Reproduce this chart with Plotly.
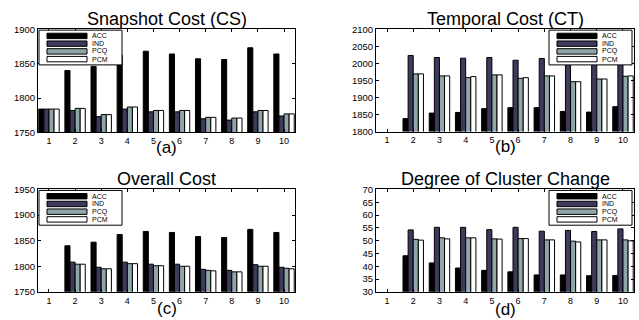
import plotly.graph_objects as go

categories = [1, 2, 3, 4, 5, 6, 7, 8, 9, 10]
series_names = ["ACC", "IND", "PCQ", "PCM"]
series_colors = ["#000000", "#3d3b5c", "#8fa6a9", "#ffffff"]

# (a) Snapshot Cost (CS)
cs_acc = [1784, 1840, 1846, 1862, 1868, 1864, 1857, 1856, 1873, 1864]
cs_ind = [1784, 1782, 1773, 1784, 1780, 1780, 1770, 1768, 1780, 1774]
cs_pcq = [1784, 1785, 1776, 1787, 1782, 1782, 1772, 1771, 1782, 1777]
cs_pcm = [1784, 1785, 1776, 1787, 1782, 1782, 1772, 1771, 1782, 1777]

# (b) Temporal Cost (CT)
ct_acc = [None, 1838, 1854, 1856, 1867, 1870, 1870, 1859, 1857, 1873]
ct_ind = [None, 2023, 2017, 2015, 2017, 2009, 2014, 2010, 2012, 2014]
ct_pcq = [None, 1969, 1963, 1958, 1966, 1956, 1963, 1946, 1954, 1962]
ct_pcm = [None, 1969, 1963, 1961, 1966, 1958, 1963, 1946, 1954, 1963]

# (c) Overall Cost
oc_acc = [None, 1840, 1847, 1862, 1868, 1866, 1858, 1856, 1872, 1866]
oc_ind = [None, 1808, 1798, 1808, 1804, 1804, 1794, 1792, 1803, 1798]
oc_pcq = [None, 1804, 1795, 1805, 1801, 1800, 1792, 1789, 1800, 1796]
oc_pcm = [None, 1804, 1795, 1805, 1801, 1800, 1791, 1789, 1800, 1795]

# (d) Degree of Cluster Change
dc_acc = [None, 44.1, 41.3, 39.3, 38.4, 37.8, 36.6, 36.6, 36.3, 36.4]
dc_ind = [None, 54.2, 55.2, 55.2, 54.3, 55.2, 53.7, 54.0, 53.6, 54.6]
dc_pcq = [None, 50.5, 51.1, 51.1, 50.7, 50.8, 50.3, 49.8, 50.3, 50.3]
dc_pcm = [None, 50.2, 50.7, 51.1, 50.6, 50.8, 50.3, 49.5, 50.3, 49.9]

panel_titles = ["Snapshot Cost (CS)", "Temporal Cost (CT)", "Overall Cost", "Degree of Cluster Change"]
panel_labels = ["(a)", "(b)", "(c)", "(d)"]
panel_data = [
    [cs_acc, cs_ind, cs_pcq, cs_pcm],
    [ct_acc, ct_ind, ct_pcq, ct_pcm],
    [oc_acc, oc_ind, oc_pcq, oc_pcm],
    [dc_acc, dc_ind, dc_pcq, dc_pcm],
]
y_ranges = [[1750, 1900], [1800, 2100], [1750, 1950], [30, 70]]
y_dticks = [50, 50, 50, 5]

W, H = 639, 320
# plot boxes in pixels: (left, right, top, bottom)
boxes = [(38, 295, 24, 131), (376, 634, 24, 130), (38, 295, 190, 296), (376, 634, 190, 296)]
# legend boxes in pixels: (left, top)
legend_pos = [(39, 25), (549, 25), (39, 191), (549, 191)]
title_y = [13, 13, 179, 179]
label_y = [147, 146, 313, 314]

FONT = "Liberation Sans, Arial, sans-serif"
fig = go.Figure()
shapes = []
annotations = []

for p in range(4):
    ax = "" if p == 0 else str(p + 1)
    l, r, t, b = boxes[p]
    for s in range(4):
        fig.add_trace(go.Bar(
            x=categories, y=panel_data[p][s], name=series_names[s],
            marker=dict(color=series_colors[s], line=dict(color="black", width=1)),
            xaxis="x" + ax, yaxis="y" + ax, showlegend=False, hoverinfo="skip",
        ))
    fig.layout["xaxis" + ax] = dict(
        domain=[l / W, r / W], anchor="y" + ax, range=[0.58, 10.42],
        tickmode="array", tickvals=categories, ticktext=[str(c) for c in categories],
        ticks="inside", ticklen=3, tickcolor="black", showline=True, linecolor="black",
        linewidth=1, mirror="ticks", showgrid=False, zeroline=False,
        tickfont=dict(family=FONT, size=9, color="black"),
    )
    fig.layout["yaxis" + ax] = dict(
        domain=[1 - b / H, 1 - t / H], anchor="x" + ax, range=y_ranges[p],
        dtick=y_dticks[p], tick0=y_ranges[p][0],
        ticks="inside", ticklen=3, tickcolor="black", showline=True, linecolor="black",
        linewidth=1, mirror="ticks", showgrid=False, zeroline=False,
        tickfont=dict(family=FONT, size=9.5, color="black"),
    )
    cx = (l + r) / 2 / W
    annotations.append(dict(text=panel_titles[p], x=cx, y=1 - title_y[p] / H, xref="paper", yref="paper",
                            showarrow=False, xanchor="center", yanchor="middle", borderpad=0,
                            font=dict(family=FONT, size=18, color="black")))
    annotations.append(dict(text=panel_labels[p], x=cx, y=1 - label_y[p] / H, xref="paper", yref="paper",
                            showarrow=False, xanchor="center", yanchor="middle", borderpad=0,
                            font=dict(family=FONT, size=17, color="black")))
    # legend
    lx, ly = legend_pos[p]
    lw, lh, step = 83, 36, 8
    shapes.append(dict(type="rect", xref="paper", yref="paper", x0=lx / W, x1=(lx + lw) / W,
                       y0=1 - (ly + lh) / H, y1=1 - ly / H, fillcolor="white",
                       line=dict(color="black", width=1), layer="above"))
    for s in range(4):
        cy = ly + 6 + s * step
        shapes.append(dict(type="rect", xref="paper", yref="paper", x0=(lx + 8) / W, x1=(lx + 48) / W,
                           y0=1 - (cy + 2.8) / H, y1=1 - (cy - 2.8) / H, fillcolor=series_colors[s],
                           line=dict(color="black", width=1), layer="above"))
        annotations.append(dict(text=series_names[s], x=(lx + 52) / W, y=1 - cy / H, xref="paper", yref="paper",
                                showarrow=False, xanchor="left", yanchor="middle", borderpad=0,
                                font=dict(family=FONT, size=7, color="black")))

fig.update_layout(
    width=W, height=H, margin=dict(l=0, r=0, t=0, b=0),
    paper_bgcolor="white", plot_bgcolor="white",
    barmode="group", bargap=0.22, bargroupgap=0,
    shapes=shapes, annotations=annotations, showlegend=False,
)
fig.write_html("out.html", config={"displayModeBar": False},
               post_script="document.body.style.margin='0';document.body.style.padding='0';")
